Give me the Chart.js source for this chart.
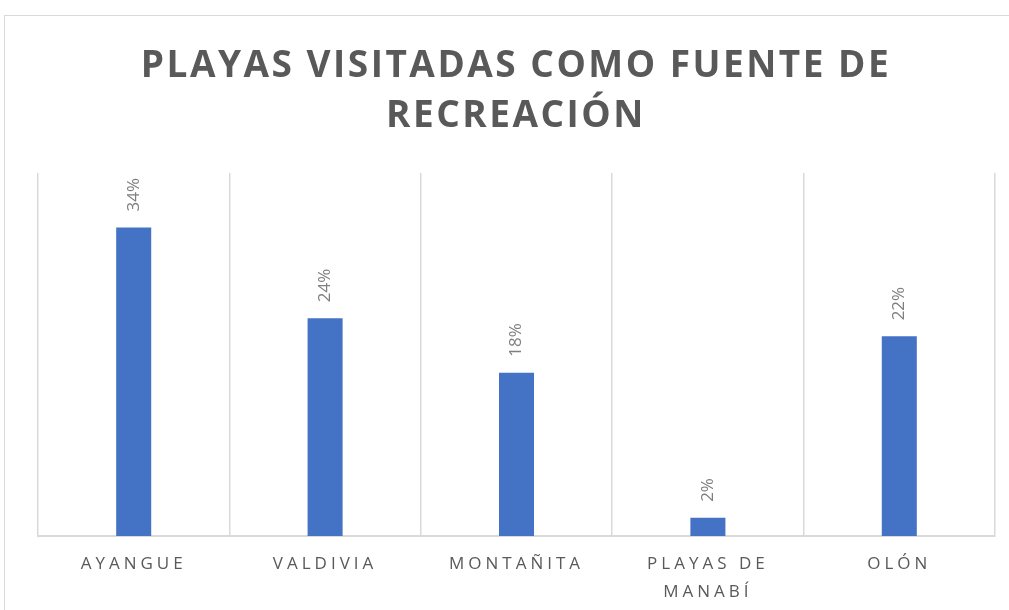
<!DOCTYPE html>
<html>
<head>
<meta charset="utf-8">
<script src="https://cdn.jsdelivr.net/npm/chart.js@4.4.1/dist/chart.umd.min.js"></script>
<style>
  body { margin: 0; background: #fff; overflow: hidden; }
  #wrap { position: relative; width: 1009px; height: 610px; }
  #frame { position: absolute; left: 4px; top: 15px; width: 1030px; height: 640px; border: 1px solid #d9d9d9; box-sizing: border-box; }
  #title { position: absolute; left: 0; top: 38px; width: 1032px; text-align: center;
    font: 700 37px "Open Sans", sans-serif; line-height: 50px; letter-spacing: 2.5px; color: #595959; }
  canvas { position: absolute; left: 0; top: 0; }
</style>
</head>
<body>
<div id="wrap">
  <div id="frame"></div>
  <canvas id="chart" width="1009" height="610"></canvas>
  <div id="title">PLAYAS VISITADAS COMO FUENTE DE<br>RECREACIÓN</div>
</div>
<script>
const categories = ['AYANGUE', 'VALDIVIA', 'MONTAÑITA', ['PLAYAS DE', 'MANABÍ'], 'OLÓN']
const percentages = [34, 24, 18, 2, 22]

// rotated value labels above each bar
const valueLabels = {
  id: 'valueLabels',
  afterDatasetsDraw(chart) {
    const ctx = chart.ctx
    const meta = chart.getDatasetMeta(0)
    ctx.save()
    ctx.letterSpacing = '0px'
    ctx.font = '17px "Open Sans", sans-serif'
    ctx.fillStyle = '#7f7f7f'
    ctx.textAlign = 'left'
    ctx.textBaseline = 'middle'
    meta.data.forEach((bar, i) => {
      ctx.save()
      ctx.translate(bar.x, bar.y - 16)
      ctx.rotate(-Math.PI / 2)
      ctx.fillText(percentages[i] + '%', 0, 0)
      ctx.restore()
    })
    ctx.restore()
  }
}

const spacing = {
  id: 'spacing',
  beforeDraw(chart) { chart.ctx.letterSpacing = '4px' }
}

new Chart(document.getElementById('chart'), {
  type: 'bar',
  data: {
    labels: categories,
    datasets: [{
      data: percentages,
      backgroundColor: '#4472c4',
      barPercentage: 0.183,
      categoryPercentage: 1
    }]
  },
  options: {
    responsive: false,
    animation: false,
    layout: { padding: { left: 38, right: 14, top: 173, bottom: 0 } },
    plugins: { legend: { display: false }, tooltip: { enabled: false } },
    scales: {
      x: {
        offset: true,
        grid: { offset: true, color: '#d9d9d9', lineWidth: 1.5, drawTicks: false },
        border: { color: '#d9d9d9', width: 2 },
        ticks: {
          color: '#595959',
          padding: 15,
          maxRotation: 0,
          font: { family: 'Open Sans', size: 17, lineHeight: 1.6 }
        },
        afterFit(scale) { scale.height = 74 }
      },
      y: { display: false, min: 0, max: 40 }
    }
  },
  plugins: [spacing, valueLabels]
})
</script>
</body>
</html>
